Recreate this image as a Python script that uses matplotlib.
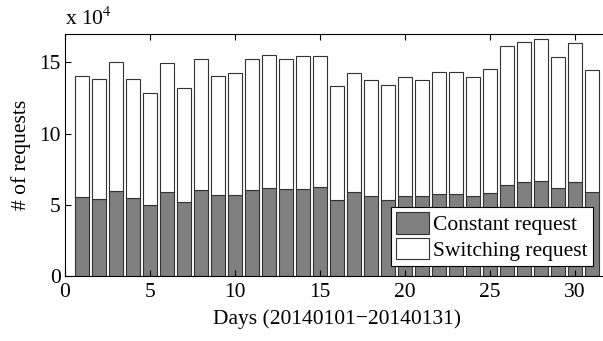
import matplotlib
matplotlib.use("Agg")
import matplotlib.pyplot as plt
import numpy as np

plt.rcParams['font.family'] = ['Liberation Serif', 'DejaVu Serif']
plt.rcParams['mathtext.fontset'] = 'stix'

days = list(range(1, 32))
# values in units of 1e4 requests
constant = [5.58, 5.40, 5.94, 5.47, 5.00, 5.89, 5.19, 6.06, 5.70, 5.66,
            6.03, 6.15, 6.10, 6.10, 6.24, 5.35, 5.87, 5.59, 5.35, 5.63,
            5.59, 5.77, 5.77, 5.63, 5.82, 6.38, 6.57, 6.67, 6.20, 6.60,
            5.87]
total = [14.03, 13.85, 15.05, 13.85, 12.84, 14.93, 13.22, 15.21, 14.03, 14.27,
         15.26, 15.54, 15.23, 15.44, 15.44, 13.38, 14.23, 13.76, 13.45, 14.01,
         13.78, 14.30, 14.30, 14.01, 14.55, 16.17, 16.45, 16.64, 15.40, 16.34,
         14.48]
switching = [t - c for t, c in zip(total, constant)]

fs = 15.5

fig = plt.figure(figsize=(6.03, 3.41), dpi=100)
ax = fig.add_axes([65 / 603, 1 - 276 / 341, 544 / 603, 242 / 341])

ax.bar(days, constant, width=0.8, color='#808080', edgecolor='#333333',
       linewidth=0.8, label='Constant request')
ax.bar(days, switching, bottom=constant, width=0.8, color='white',
       edgecolor='#333333', linewidth=0.8, label='Switching request')

ax.set_xlim(0, 32)
ax.set_ylim(0, 17)
ax.set_xticks([0, 5, 10, 15, 20, 25, 30])
ax.set_yticks([0, 5, 10, 15])
ax.tick_params(direction='in', top=True, right=True, labelsize=fs, length=4)
ax.tick_params(axis='x', pad=5)
ax.tick_params(axis='y', pad=3)
for s in ax.spines.values():
    s.set_linewidth(0.8)

ax.set_xlabel('Days (20140101\u221220140131)', fontsize=fs, labelpad=5)
ax.set_ylabel('# of requests', fontsize=fs, labelpad=6)
ax.text(0.0, 1.015, r'x 10$^4$', transform=ax.transAxes, fontsize=fs,
        ha='left', va='bottom')

leg = ax.legend(loc='lower right', bbox_to_anchor=(593 / 544 - 65 / 544, 0.04),
                bbox_transform=ax.transAxes, fontsize=fs, fancybox=False,
                edgecolor='black', framealpha=1, borderpad=0.25,
                handlelength=1.5, handleheight=1.15, handletextpad=0.2,
                labelspacing=0.12, borderaxespad=0)
leg.get_frame().set_linewidth(0.8)

fig.savefig('out.png', dpi=100)
